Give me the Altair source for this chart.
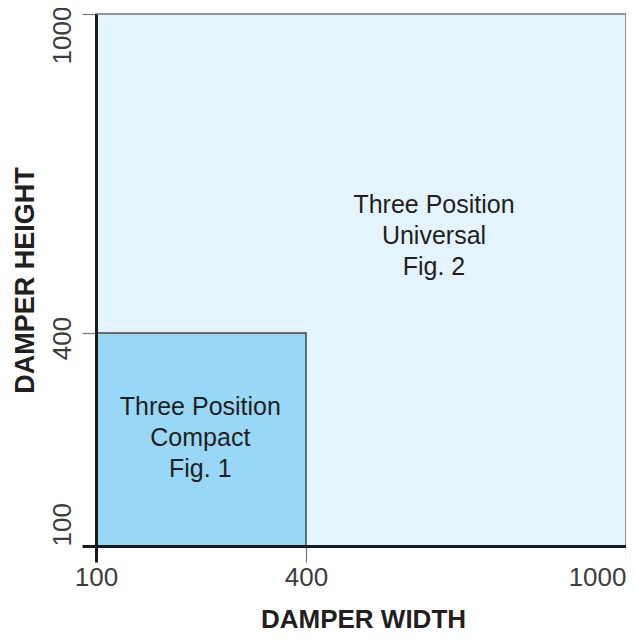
import altair as alt
import pandas as pd

# Regions (damper width/height ranges)
region_names = ["Universal", "Compact"]
x_start = [100, 100]
x_end = [1000, 400]
y_start = [100, 100]
y_end = [1000, 400]
fills = ["#E3F4FD", "#98D8F6"]
strokes = ["#777777", "#444444"]

label_text = ["Three Position\nUniversal\nFig. 2", "Three Position\nCompact\nFig. 1"]
label_x = [640, 249]
label_y = [641, 296]

tick_values = [100, 400, 1000]

rects = pd.DataFrame({"name": region_names, "x": x_start, "x2": x_end,
                      "y": y_start, "y2": y_end, "fill": fills, "stroke": strokes})
labels = pd.DataFrame({"text": label_text, "x": label_x, "y": label_y})

FONT = "Liberation Sans"

xscale = alt.Scale(domain=[100, 400, 1000], range=[0, 210, 530], nice=False, zero=False)
yscale = alt.Scale(domain=[100, 400, 1000], range=[532, 319, 0], nice=False, zero=False)

xaxis = alt.Axis(
    values=tick_values, format="d", title="DAMPER WIDTH", grid=False, zindex=1,
    domainColor="#1a1a1a", domainWidth=3,
    tickSize=16,
    tickColor=alt.expr("datum.value == 100 ? '#1a1a1a' : '#777777'"),
    tickWidth=alt.expr("datum.value == 100 ? 3 : 1.2"),
    labelFont=FONT, labelFontSize=26, labelColor="#3d3d3d", labelPadding=2,
    labelAlign=alt.expr("datum.value == 1000 ? 'right' : 'center'"),
    labelBaseline="top",
    titleFont=FONT, titleFontSize=26, titleFontWeight="bold", titleColor="#231F20",
    titleX=267, titleY=73, titleAlign="center", titleBaseline="middle", titleAnchor="middle",
)
yaxis = alt.Axis(
    values=tick_values, format="d", title="DAMPER HEIGHT", grid=False, zindex=1,
    domainColor="#1a1a1a", domainWidth=3,
    tickSize=14,
    tickColor=alt.expr("datum.value == 100 ? '#1a1a1a' : '#777777'"),
    tickWidth=alt.expr("datum.value == 100 ? 3 : 1.2"),
    labelFont=FONT, labelFontSize=26, labelColor="#3d3d3d", labelPadding=12,
    labelAngle=270,
    labelAlign=alt.expr("datum.value == 100 ? 'left' : 'center'"),
    labelOffset=alt.expr("datum.value == 1000 ? 21 : (datum.value == 400 ? 5 : 0)"),
    labelBaseline="alphabetic",
    titleFont=FONT, titleFontSize=27, titleFontWeight="bold", titleColor="#231F20",
    titleX=-71, titleY=266, titleAngle=270, titleAlign="center", titleBaseline="middle",
)

base = alt.Chart(rects)
rect_layer = base.mark_rect(strokeWidth=1.5).encode(
    x=alt.X("x:Q", scale=xscale, axis=xaxis),
    x2="x2:Q",
    y=alt.Y("y:Q", scale=yscale, axis=yaxis),
    y2="y2:Q",
    fill=alt.Fill("fill:N", scale=None),
    stroke=alt.Stroke("stroke:N", scale=None),
    order=alt.Order("x2:Q", sort="descending"),
)

text_layer = alt.Chart(labels).mark_text(
    font=FONT, fontSize=25, color="#231F20", lineBreak="\n", lineHeight=31,
    align="center", baseline="middle",
).encode(
    x=alt.X("x:Q", scale=xscale),
    y=alt.Y("y:Q", scale=yscale),
    text="text:N",
)

chart = alt.layer(rect_layer, text_layer).properties(
    width=530, height=532,
    autosize=alt.AutoSizeParams(type="none"),
    padding={"left": 88, "top": 6, "right": 0, "bottom": 86},
).configure_view(stroke=None).configure(background="white")

chart.save("out.html", embed_options={"renderer": "svg", "actions": False})
